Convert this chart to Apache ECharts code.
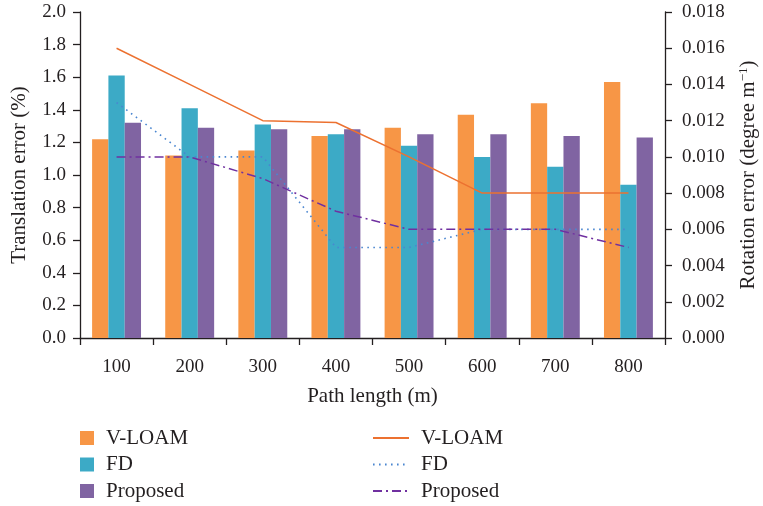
<!DOCTYPE html>
<html>
<head>
<meta charset="utf-8">
<script src="https://cdn.jsdelivr.net/npm/echarts@6/dist/echarts.min.js"></script>
<style>
  html, body { margin: 0; padding: 0; background: #fff; }
  #chart { width: 763px; height: 506px; }
</style>
</head>
<body>
<div id="chart"></div>
<script>
// Path lengths (m)
const categories = ['100', '200', '300', '400', '500', '600', '700', '800'];

// Translation error (%) — bars, left axis
const transVLOAM = [1.22, 1.12, 1.15, 1.24, 1.29, 1.37, 1.44, 1.57];
const transFD = [1.61, 1.41, 1.31, 1.25, 1.18, 1.11, 1.05, 0.94];
const transProposed = [1.32, 1.29, 1.28, 1.28, 1.25, 1.25, 1.24, 1.23];

// Rotation error (degree/m) — lines, right axis
const rotVLOAM = [0.016, 0.014, 0.012, 0.0119, 0.010, 0.008, 0.008, 0.008];
const rotFD = [0.013, 0.010, 0.010, 0.005, 0.005, 0.006, 0.006, 0.006];
const rotProposed = [0.010, 0.010, 0.0088, 0.007, 0.006, 0.006, 0.006, 0.005];

const FONT = 'Liberation Serif';
const TEXT = '#231f20';
const AXIS = '#231f20';

const chart = echarts.init(document.getElementById('chart'));

const axisCommon = {
  axisLine: { show: true, lineStyle: { color: AXIS, width: 1.3 } },
  axisTick: { show: true, inside: false, length: 7, lineStyle: { color: AXIS, width: 1.3 } },
  splitLine: { show: false },
  axisLabel: { color: TEXT, fontFamily: FONT, fontSize: 19 },
  nameTextStyle: { color: TEXT, fontFamily: FONT, fontSize: 21 }
};

const legendText = { color: TEXT, fontFamily: FONT, fontSize: 21, lineHeight: 22, padding: [0, 0, 0, 7] };

chart.setOption({
  animation: false,
  backgroundColor: '#fff',
  grid: { left: 80, right: 98, top: 12, bottom: 168, containLabel: false, outerBoundsMode: 'none' },
  xAxis: {
    type: 'category',
    data: categories,
    name: 'Path length (m)',
    nameLocation: 'middle',
    nameGap: 48,
    ...axisCommon,
    axisLabel: { ...axisCommon.axisLabel, margin: 20 }
  },
  yAxis: [
    {
      type: 'value',
      min: 0, max: 2.0, interval: 0.2,
      name: 'Translation error (%)',
      nameLocation: 'middle',
      nameRotate: 90,
      nameGap: 50,
      ...axisCommon,
      axisLabel: { ...axisCommon.axisLabel, margin: 14, formatter: v => v.toFixed(1) }
    },
    {
      type: 'value',
      position: 'right',
      min: 0, max: 0.018, interval: 0.002,
      name: '{a|Rotation error (degree m}{s|−1}{a|)}',
      nameLocation: 'middle',
      nameRotate: 90,
      nameGap: 72,
      ...axisCommon,
      axisLabel: { ...axisCommon.axisLabel, margin: 17, formatter: v => v.toFixed(3) },
      nameTextStyle: {
        color: TEXT, fontFamily: FONT, fontSize: 21,
        rich: {
          a: { color: TEXT, fontFamily: FONT, fontSize: 21 },
          s: { color: TEXT, fontFamily: FONT, fontSize: 13, verticalAlign: 'top', padding: [0, 0, 9, 0] }
        }
      }
    }
  ],
  legend: [
    {
      orient: 'vertical',
      left: 75, top: 422, height: 100,
      itemWidth: 14, itemHeight: 14, itemGap: 4.5,
      icon: 'rect',
      data: ['V-LOAM', 'FD', 'Proposed'],
      textStyle: legendText
    },
    {
      orient: 'vertical',
      left: 367, top: 422, height: 100,
      itemWidth: 36, itemHeight: 14, itemGap: 4.5,
      data: ['V-LOAM ', 'FD ', 'Proposed '],
      itemStyle: { opacity: 0 },
      formatter: n => n.trim(),
      textStyle: legendText
    }
  ],
  series: [
    { name: 'V-LOAM', type: 'bar', data: transVLOAM, barWidth: '22.3%', barGap: '0%',
      itemStyle: { color: '#f79646' } },
    { name: 'FD', type: 'bar', data: transFD, barWidth: '22.3%', barGap: '0%',
      itemStyle: { color: '#3caac6' } },
    { name: 'Proposed', type: 'bar', data: transProposed, barWidth: '22.3%', barGap: '0%',
      itemStyle: { color: '#8064a2' } },
    { name: 'V-LOAM ', type: 'line', yAxisIndex: 1, data: rotVLOAM, symbol: 'none',
      lineStyle: { color: '#ec7130', width: 1.5, type: 'solid' }, itemStyle: { color: '#ec7130' } },
    { name: 'FD ', type: 'line', yAxisIndex: 1, data: rotFD, symbol: 'none',
      lineStyle: { color: '#4a86d0', width: 1.6, type: [1.6, 4.4] }, itemStyle: { color: '#4a86d0' } },
    { name: 'Proposed ', type: 'line', yAxisIndex: 1, data: rotProposed, symbol: 'none',
      lineStyle: { color: '#7030a0', width: 1.5, type: [9, 4, 2, 4] }, itemStyle: { color: '#7030a0' } }
  ]
});
</script>
</body>
</html>
